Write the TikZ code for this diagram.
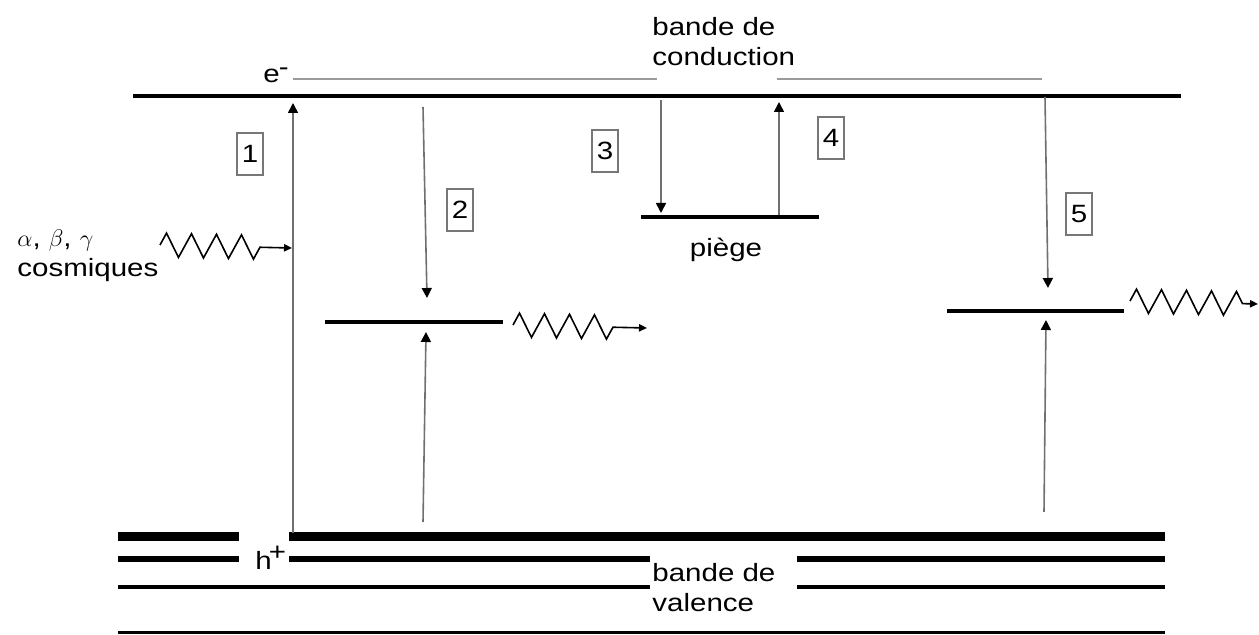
\documentclass[tikz,border=0pt]{standalone}
\usepackage{fontspec}
\setmainfont[FakeStretch=1.18]{Liberation Sans}
\usepackage{tikz}
\usetikzlibrary{arrows.meta,decorations.pathmorphing}
\definecolor{shaft}{HTML}{707070}
\definecolor{edgegray}{HTML}{9A9A9A}
\definecolor{boxgray}{HTML}{777777}
\tikzset{
  band/.style={draw=black, line width=2pt},
  level/.style={draw=black, line width=1.6pt},
  bandedge/.style={draw=edgegray, line width=1.2pt},
  trans/.style={draw=shaft, line width=0.8pt, -{Triangle[length=5pt, width=5pt, color=black]}},
  photon/.style={draw=black, line width=0.8pt, decorate,
    decoration={zigzag, segment length=12.5pt, amplitude=6pt, post=lineto, post length=#1},
    -{Triangle[length=4pt, width=3.6pt]}},
  photon/.default=10pt,
  numbox/.style={draw=boxgray, line width=0.6pt, minimum width=13pt, minimum height=21pt, inner sep=1pt},
  txt/.style={align=left, inner sep=0pt}
}
\begin{document}
\begin{tikzpicture}[x=0.5pt, y=-0.5pt, font=\fontsize{12.5}{15}\selectfont]
  \useasboundingbox (0,0) rectangle (1259,635);

  % conduction band
  \coordinate (cbW) at (133,96);
  \coordinate (cbE) at (1181,96);
  \coordinate (edgeA) at (293,79);
  \coordinate (edgeB) at (657,79);
  \coordinate (edgeC) at (777,79);
  \coordinate (edgeD) at (1042,79);
  \draw[band] (cbW) -- (cbE);
  \draw[bandedge] (edgeA) -- (edgeB);
  \draw[bandedge] (edgeC) -- (edgeD);
  \node[txt, anchor=base west] (elec) at (263,83) {e\kern-0.5pt\raisebox{0.6ex}{-}};
  \node[txt, anchor=north west] (cblabel) at (652,17) {bande de\\conduction};

  % levels in the gap
  \coordinate (rcW) at (325,322);
  \coordinate (rcE) at (503,322);
  \coordinate (trW) at (641,217);
  \coordinate (trE) at (819,217);
  \coordinate (lumW) at (947,311);
  \coordinate (lumE) at (1124,311);
  \draw[level] (rcW) -- (rcE);
  \draw[level] (trW) -- (trE);
  \draw[level] (lumW) -- (lumE);
  \node[txt] (trap) at (726,250) {piège};

  % valence band
  \coordinate (vb1a) at (118,537);
  \coordinate (vb1b) at (239,537);
  \coordinate (vb1c) at (289,537);
  \coordinate (vb1d) at (1165,537);
  \coordinate (vb2a) at (118,559);
  \coordinate (vb2b) at (239,559);
  \coordinate (vb2c) at (289,559);
  \coordinate (vb2d) at (650,559);
  \coordinate (vb2e) at (797,559);
  \coordinate (vb2f) at (1165,559);
  \coordinate (vb3a) at (118,587);
  \coordinate (vb3b) at (650,587);
  \coordinate (vb3c) at (797,587);
  \coordinate (vb3d) at (1165,587);
  \coordinate (vb4a) at (118,633);
  \coordinate (vb4b) at (1165,633);
  \draw[line width=4.5pt] (vb1a) -- (vb1b) (vb1c) -- (vb1d);
  \draw[line width=3pt] (vb2a) -- (vb2b) (vb2c) -- (vb2d) (vb2e) -- (vb2f);
  \draw[line width=2pt] (vb3a) -- (vb3b) (vb3c) -- (vb3d);
  \draw[line width=1.5pt] (vb4a) -- (vb4b);
  \node[txt, anchor=base west] (hole) at (255,570) {h\kern-1.5pt\raisebox{0.75ex}{+}};
  \node[txt, anchor=north west] (vblabel) at (652,563) {bande de\\valence};

  % transitions
  \coordinate (t1s) at (293,533);  \coordinate (t1e) at (293,103);
  \coordinate (t2s) at (423,107);  \coordinate (t2e) at (427,298);
  \coordinate (h2s) at (423,522);  \coordinate (h2e) at (426,332);
  \coordinate (t3s) at (661,100);  \coordinate (t3e) at (661,213);
  \coordinate (t4s) at (779,215);  \coordinate (t4e) at (779,102);
  \coordinate (t5s) at (1045,97);  \coordinate (t5e) at (1048,288);
  \coordinate (h5s) at (1044,512); \coordinate (h5e) at (1046,320);
  \draw[trans] (t1s) -- (t1e);
  \draw[trans] (t2s) -- (t2e);
  \draw[trans] (h2s) -- (h2e);
  \draw[trans] (t3s) -- (t3e);
  \draw[trans] (t4s) -- (t4e);
  \draw[trans] (t5s) -- (t5e);
  \draw[trans] (h5s) -- (h5e);

  \node[numbox] (n1) at (250,154) {1};
  \node[numbox] (n2) at (460,210) {2};
  \node[numbox] (n3) at (605,151) {3};
  \node[numbox] (n4) at (831,138) {4};
  \node[numbox] (n5) at (1079,214) {5};

  % radiation in and light out
  \node[txt, anchor=north west] (rays) at (17,229) {$\alpha$, $\beta$, $\gamma$\\cosmiques};
  \coordinate (inS) at (160,245);  \coordinate (inE) at (292,248);
  \coordinate (outS) at (513,325); \coordinate (outE) at (647,328);
  \coordinate (lumS) at (1130,301); \coordinate (lumT) at (1258,304);
  \draw[photon] (inS) -- (inE);
  \draw[photon=11pt] (outS) -- (outE);
  \draw[photon=7pt] (lumS) -- (lumT);
\end{tikzpicture}
\end{document}
